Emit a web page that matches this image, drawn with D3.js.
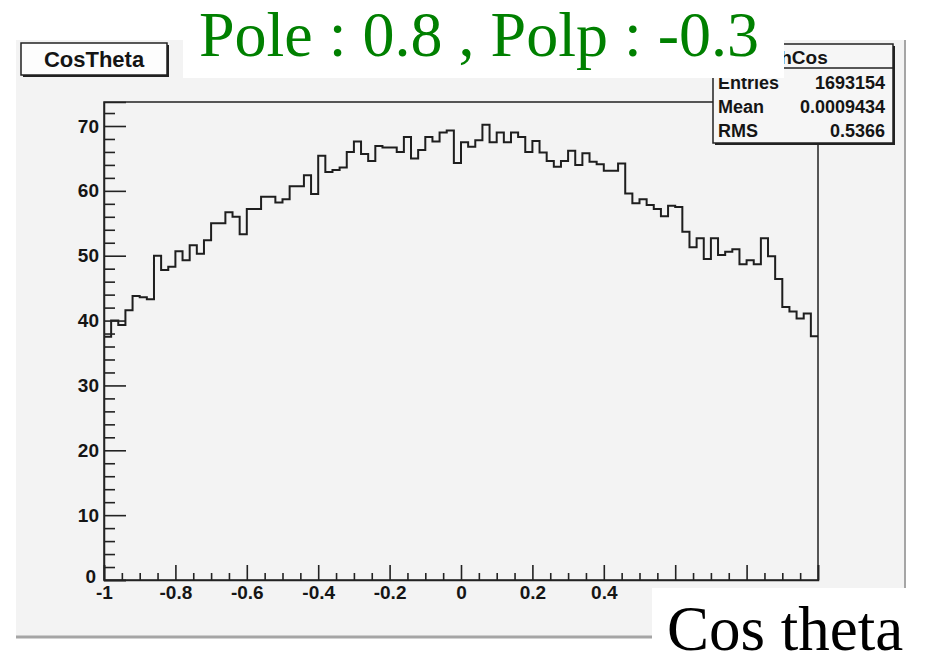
<!DOCTYPE html>
<html>
<head>
<meta charset="utf-8">
<script src="https://cdn.jsdelivr.net/npm/d3@7"></script>
<style>
  body { margin: 0; background: #fff; }
  svg { display: block; }
</style>
</head>
<body>
<script>
// histogram contents, 100 bins over [-1, 1]
const xRange = [-1, 1];
const counts = [
  37.5, 40.0, 39.3, 41.6, 43.8, 43.6, 43.3, 50.0, 47.8, 48.3,
  50.7, 49.3, 51.6, 50.3, 52.4, 55.0, 55.0, 56.7, 56.0, 53.3,
  57.2, 57.2, 59.1, 59.1, 58.2, 58.7, 60.7, 60.7, 62.4, 59.5,
  65.4, 62.9, 63.2, 63.6, 66.0, 67.6, 65.7, 64.6, 66.9, 66.7,
  66.7, 66.0, 68.3, 65.0, 66.3, 68.3, 67.6, 69.0, 69.3, 64.3,
  67.5, 66.8, 67.8, 70.2, 67.5, 69.0, 67.5, 69.0, 68.3, 66.0,
  67.7, 65.9, 64.6, 63.7, 64.6, 66.2, 64.0, 65.8, 64.5, 64.1,
  63.1, 63.1, 64.2, 59.6, 58.1, 58.7, 57.8, 57.2, 56.1, 57.7,
  57.5, 53.7, 51.3, 52.7, 49.5, 52.7, 50.1, 50.6, 51.0, 48.7,
  49.3, 48.7, 52.7, 49.9, 46.4, 42.1, 41.4, 40.3, 41.1, 37.6
];
const yMax = 73.7;
const yMajorTicks = [0, 10, 20, 30, 40, 50, 60, 70];
const xMajorTicks = [-1, -0.8, -0.6, -0.4, -0.2, 0, 0.2, 0.4, 0.6, 0.8, 1];
// labels right of 0.4 sit under the "Cos theta" box in the picture
const xLabelledTicks = [-1, -0.8, -0.6, -0.4, -0.2, 0, 0.2, 0.4];
const statLabels = ["Entries", "Mean", "RMS"];
const statValues = ["1693154", "0.0009434", "0.5366"];
const histName = "hCos";
const histTitle = "CosTheta";
const topTitle = "Pole : 0.8 , Polp : -0.3";
const xTitle = "Cos theta";

const W = 925, H = 662;
const frame = { left: 104, right: 818, top: 102, bottom: 580 };

const svg = d3.select("body").append("svg").attr("width", W).attr("height", H);

// pad
svg.append("rect").attr("x", 16).attr("y", 40).attr("width", 889).attr("height", 597)
  .attr("fill", "#f3f3f3");
svg.append("line").attr("x1", 16).attr("y1", 637).attr("x2", 906).attr("y2", 637)
  .attr("stroke", "#a5a5a5").attr("stroke-width", 3);
svg.append("line").attr("x1", 905).attr("y1", 40).attr("x2", 905).attr("y2", 637)
  .attr("stroke", "#a5a5a5").attr("stroke-width", 2);

const x = d3.scaleLinear().domain(xRange).range([frame.left, frame.right]);
const y = d3.scaleLinear().domain([0, yMax]).range([frame.bottom, frame.top]);

// frame
svg.append("rect").attr("x", frame.left).attr("y", frame.top)
  .attr("width", frame.right - frame.left).attr("height", frame.bottom - frame.top)
  .attr("fill", "#f3f3f3").attr("stroke", "#222").attr("stroke-width", 1.5);

// histogram steps
const binW = (xRange[1] - xRange[0]) / counts.length;
const pts = counts.map((c, i) => [xRange[0] + i * binW, c]);
pts.push([xRange[1], counts[counts.length - 1]]);
const step = d3.line().x(d => x(d[0])).y(d => y(d[1])).curve(d3.curveStepAfter);
svg.append("path").attr("d", step(pts)).attr("fill", "none")
  .attr("stroke", "#1e1e1e").attr("stroke-width", 2);

const fmt = d => String(+d.toFixed(2));
const labelFont = "'Liberation Sans', Arial, sans-serif";

// y axis
const yMinor = d3.range(0, 73, 2).filter(v => v % 10 !== 0);
svg.append("g").attr("transform", `translate(${frame.left},0)`)
  .call(d3.axisLeft(y).tickValues(yMinor).tickSize(-11).tickFormat(""))
  .call(g => g.select(".domain").remove());
const yAxis = svg.append("g").attr("transform", `translate(${frame.left},0)`)
  .call(d3.axisLeft(y).tickValues(yMajorTicks).tickSize(-22).tickPadding(5).tickFormat(fmt));
yAxis.select(".domain").attr("stroke", "#222").attr("stroke-width", 1.5);
svg.selectAll(".tick line").attr("stroke", "#222").attr("stroke-width", 1.6);
yAxis.selectAll("text").attr("font-family", labelFont).attr("font-weight", "bold")
  .attr("font-size", 19).attr("fill", "#151515");
// the zero label sits a little higher, clear of the "-1" below it
yAxis.selectAll("text").filter(d => d === 0).attr("y", -4).attr("x", -8);

// x axis
const xMinor = d3.range(-20, 21).map(i => i * 0.05).filter(v => Math.abs(Math.round(v * 5) - v * 5) > 1e-6);
svg.append("g").attr("transform", `translate(0,${frame.bottom})`)
  .call(d3.axisBottom(x).tickValues(xMinor).tickSize(-7).tickFormat(""))
  .call(g => g.select(".domain").remove())
  .selectAll("line").attr("stroke", "#222").attr("stroke-width", 1.6);
const xAxis = svg.append("g").attr("transform", `translate(0,${frame.bottom})`)
  .call(d3.axisBottom(x).tickValues(xMajorTicks).tickSize(-15).tickPadding(6)
    .tickFormat(d => xLabelledTicks.includes(d) ? fmt(d) : ""));
xAxis.select(".domain").attr("stroke", "#222").attr("stroke-width", 1.5);
xAxis.selectAll("line").attr("stroke", "#222").attr("stroke-width", 1.6);
xAxis.selectAll("text").attr("font-family", labelFont).attr("font-weight", "bold")
  .attr("font-size", 19).attr("fill", "#151515");

// histogram title box
svg.append("rect").attr("x", 23).attr("y", 45).attr("width", 146).attr("height", 32).attr("fill", "#222");
svg.append("rect").attr("x", 21).attr("y", 43).attr("width", 146).attr("height", 32)
  .attr("fill", "#fdfdfd").attr("stroke", "#222").attr("stroke-width", 1.5);
svg.append("text").attr("x", 94).attr("y", 67).attr("text-anchor", "middle")
  .attr("font-family", labelFont).attr("font-weight", "bold").attr("font-size", 22)
  .attr("fill", "#151515").text(histTitle);

// stats box
const sb = { x: 713, y: 44, w: 180, h: 99 };
svg.append("rect").attr("x", sb.x + 2).attr("y", sb.y + 2).attr("width", sb.w).attr("height", sb.h).attr("fill", "#222");
svg.append("rect").attr("x", sb.x).attr("y", sb.y).attr("width", sb.w).attr("height", sb.h)
  .attr("fill", "#f6f6f6").attr("stroke", "#222").attr("stroke-width", 1.5);
svg.append("line").attr("x1", sb.x).attr("x2", sb.x + sb.w).attr("y1", sb.y + 24).attr("y2", sb.y + 24)
  .attr("stroke", "#222").attr("stroke-width", 1.5);
svg.append("text").attr("x", sb.x + sb.w / 2 + 1).attr("y", sb.y + 20).attr("text-anchor", "middle")
  .attr("font-family", labelFont).attr("font-weight", "bold").attr("font-size", 19)
  .attr("fill", "#151515").text(histName);
statLabels.forEach((lab, i) => {
  const ty = sb.y + 45 + i * 24;
  svg.append("text").attr("x", sb.x + 5).attr("y", ty)
    .attr("font-family", labelFont).attr("font-weight", "bold").attr("font-size", 18)
    .attr("fill", "#151515").text(lab);
  svg.append("text").attr("x", sb.x + sb.w - 8).attr("y", ty).attr("text-anchor", "end")
    .attr("font-family", labelFont).attr("font-weight", "bold").attr("font-size", 18)
    .attr("fill", "#151515").text(statValues[i]);
});

// overlaid title on white
svg.append("rect").attr("x", 183).attr("y", 0).attr("width", 601).attr("height", 78).attr("fill", "#fff");
svg.append("text").attr("x", 479).attr("y", 56).attr("text-anchor", "middle")
  .attr("font-family", "'Liberation Serif', 'Times New Roman', serif").attr("font-size", 64)
  .attr("fill", "#008000").text(topTitle);

// x title on white
svg.append("rect").attr("x", 652).attr("y", 588).attr("width", 273).attr("height", 74).attr("fill", "#fff");
svg.append("text").attr("x", 667).attr("y", 650)
  .attr("font-family", "'Liberation Serif', 'Times New Roman', serif").attr("font-size", 63)
  .attr("fill", "#000").text(xTitle);
</script>
</body>
</html>
